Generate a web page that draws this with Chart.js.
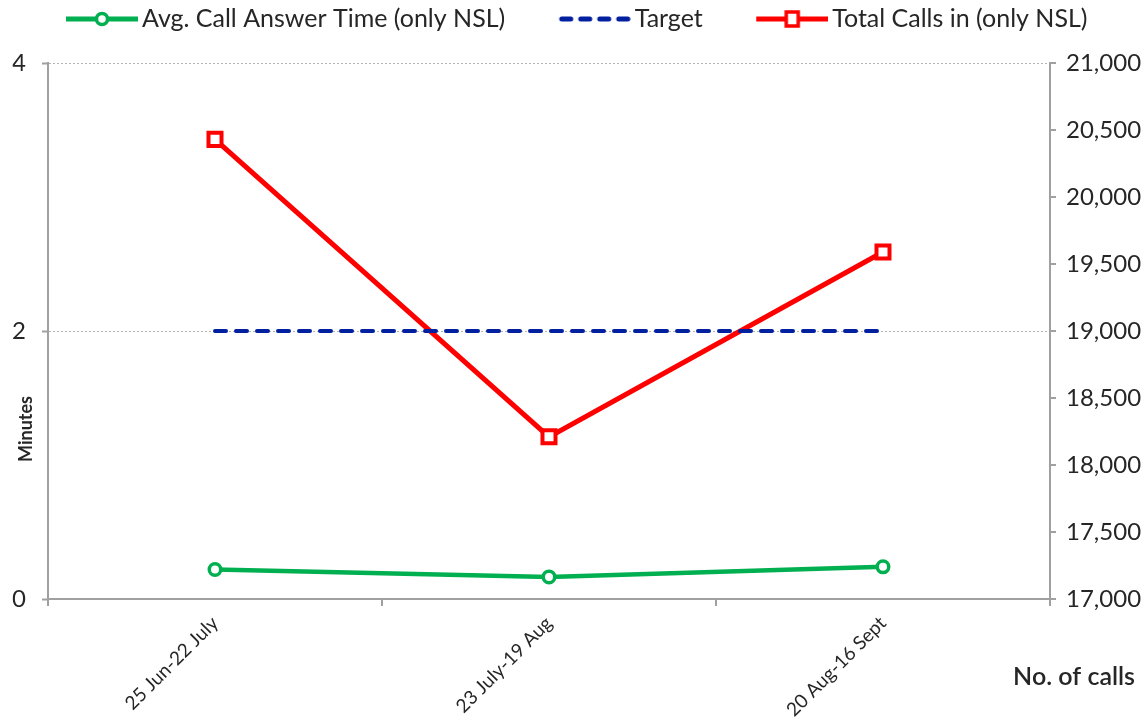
<!DOCTYPE html>
<html>
<head>
<meta charset="utf-8">
<script src="https://cdn.jsdelivr.net/npm/chart.js@4.4.1/dist/chart.umd.min.js"></script>
<style>
  html, body { margin: 0; padding: 0; background: #fff; }
  #wrap { width: 1145px; height: 721px; }
</style>
</head>
<body>
<div id="wrap"><canvas id="callsChart"></canvas></div>
<script>
// chart values
const periods = ['25 Jun-22 July', '23 July-19 Aug', '20 Aug-16 Sept'];
const answerTime = [0.22, 0.165, 0.24];   // minutes
const targetTime = [2, 2, 2];              // minutes
const totalCalls = [20430, 18210, 19590];  // no. of calls
const seriesNames = ['Avg. Call Answer Time (only NSL)', 'Target', 'Total Calls in (only NSL)'];

const FONT = 'Lato, "Open Sans", sans-serif';
const GREEN = '#00b050';
const BLUE = '#0020a0';
const RED = '#ff0000';
const AXIS = '#a0a0a0';
const TEXT = '#262626';

// line+marker pictures for the legend (130 wide, centred on the legend box,
// the line sits in the right half so it runs up to the text)
function legendIcon(color, kind) {
    const c = document.createElement('canvas');
    c.width = 130;
    c.height = 20;
    const g = c.getContext('2d');
    const x0 = 58, x1 = 130;
    g.strokeStyle = color;
    if (kind === 'dash') {
        g.lineWidth = 5;
        g.lineCap = 'round';
        g.setLineDash([9, 10]);
        g.beginPath();
        g.moveTo(x0 + 3, 10);
        g.lineTo(x1, 10);
        g.stroke();
        return c;
    }
    g.lineWidth = 5;
    g.beginPath();
    g.moveTo(x0, 10);
    g.lineTo(x1, 10);
    g.stroke();
    g.lineWidth = 3.5;
    g.fillStyle = '#fff';
    const mid = (x0 + x1) / 2;
    if (kind === 'circle') {
        g.beginPath();
        g.arc(mid, 10, 5.5, 0, Math.PI * 2);
        g.fill();
        g.stroke();
    } else {
        g.fillRect(mid - 6, 3, 12, 14);
        g.strokeRect(mid - 6, 3, 12, 14);
    }
    return c;
}
const icons = [legendIcon(GREEN, 'circle'), legendIcon(BLUE, 'dash'), legendIcon(RED, 'square')];

// axis titles sit where the original put them, so draw them by hand
const axisTitles = {
    id: 'axisTitles',
    afterDraw(chart) {
        const ctx = chart.ctx;
        ctx.save();
        ctx.fillStyle = TEXT;
        ctx.textAlign = 'center';
        ctx.textBaseline = 'middle';
        ctx.font = 'bold 18px ' + FONT;
        ctx.translate(26, 429);
        ctx.rotate(-Math.PI / 2);
        ctx.fillText('Minutes', 0, 0);
        ctx.restore();

        ctx.save();
        ctx.fillStyle = TEXT;
        ctx.textAlign = 'right';
        ctx.textBaseline = 'middle';
        ctx.font = '600 25px ' + FONT;
        ctx.fillText('No. of calls', 1135, 677);
        ctx.restore();
    }
};

new Chart(document.getElementById('callsChart').getContext('2d'), {
    type: 'line',
    data: {
        labels: periods,
        datasets: [
            {
                label: seriesNames[0],
                data: answerTime,
                yAxisID: 'y',
                borderColor: GREEN,
                borderWidth: 4.5,
                pointStyle: 'circle',
                pointRadius: 5.75,
                pointBorderWidth: 3.5,
                pointBackgroundColor: '#fff',
                pointBorderColor: GREEN
            },
            {
                label: seriesNames[1],
                data: targetTime,
                yAxisID: 'y',
                borderColor: BLUE,
                borderWidth: 4,
                borderDash: [11, 10],
                borderCapStyle: 'round',
                pointRadius: 0
            },
            {
                label: seriesNames[2],
                data: totalCalls,
                yAxisID: 'y1',
                borderColor: RED,
                borderWidth: 5,
                pointStyle: 'rect',
                pointRadius: 9.2,
                pointBorderWidth: 4,
                pointBackgroundColor: '#fff',
                pointBorderColor: RED
            }
        ]
    },
    options: {
        responsive: true,
        maintainAspectRatio: false,
        animation: false,
        layout: { padding: { top: 2.5, left: 12.5, right: 0, bottom: 0 } },
        plugins: {
            tooltip: { enabled: false },
            legend: {
                position: 'top',
                align: 'start',
                labels: {
                    usePointStyle: true,
                    pointStyleWidth: 113,
                    boxHeight: 20,
                    padding: 4,
                    color: TEXT,
                    font: { family: FONT, size: 25 },
                    generateLabels: chart => chart.data.datasets.map((ds, i) => ({
                        text: ds.label,
                        pointStyle: icons[i],
                        datasetIndex: i,
                        hidden: false,
                        lineWidth: 0,
                        fontColor: TEXT
                    }))
                }
            },
            // empty spacer between the legend and the plot
            title: {
                display: true,
                text: '',
                weight: 500,
                font: { size: 10, lineHeight: 1 },
                padding: { top: 11.5, bottom: 0 }
            }
        },
        scales: {
            x: {
                offset: true,
                grid: {
                    offset: true,
                    drawOnChartArea: false,
                    tickLength: 7,
                    color: AXIS,
                    lineWidth: 2
                },
                border: { color: AXIS, width: 2 },
                ticks: {
                    maxRotation: 45,
                    minRotation: 45,
                    padding: 6,
                    color: TEXT,
                    font: { family: FONT, size: 19 }
                },
                afterFit: s => { s.height = 122; }
            },
            y: {
                position: 'left',
                min: 0,
                max: 4,
                ticks: {
                    stepSize: 2,
                    padding: 16,
                    color: TEXT,
                    font: { family: FONT, size: 24 }
                },
                grid: {
                    color: c => c.tick && c.tick.value === 0 ? 'rgba(0,0,0,0)' : '#b4b4b4',
                    tickColor: AXIS,
                    tickLength: 6,
                    tickWidth: 2,
                    lineWidth: 1
                },
                border: { color: AXIS, width: 2, dash: [2, 2] },
                afterFit: s => { s.width = 35.5; }
            },
            y1: {
                position: 'right',
                min: 17000,
                max: 21000,
                ticks: {
                    stepSize: 500,
                    padding: 10,
                    color: TEXT,
                    font: { family: FONT, size: 24 },
                    callback: v => v.toLocaleString('en-US')
                },
                grid: {
                    drawOnChartArea: false,
                    color: AXIS,
                    tickLength: 6,
                    lineWidth: 2
                },
                border: { color: AXIS, width: 2 },
                afterFit: s => { s.width = 95; }
            }
        }
    },
    plugins: [axisTitles]
});
</script>
</body>
</html>
